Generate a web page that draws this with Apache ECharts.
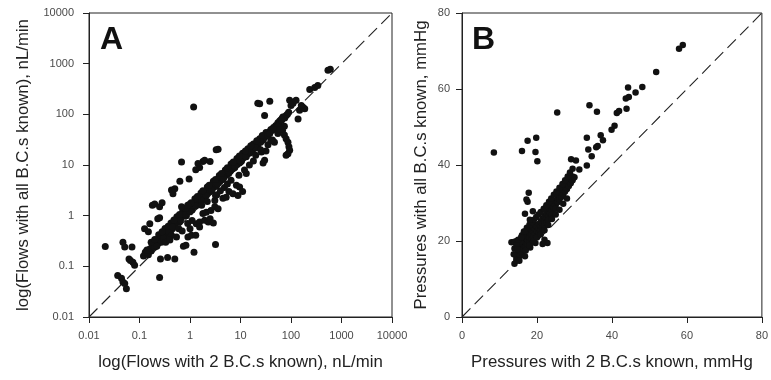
<!DOCTYPE html>
<html><head><meta charset="utf-8">
<script src="https://cdn.jsdelivr.net/npm/echarts/dist/echarts.min.js"></script>
<style>html,body{margin:0;padding:0;background:#fff}#c{width:771px;height:380px}</style>
</head><body><div id="c"></div>
<script>
const flowTicks = ['0.01','0.1','1','10','100','1000','10000'];
const pressureTicks = [0, 20, 40, 60, 80];
const flowDiagonal = [[0.01, 0.01], [10000, 10000]];
const pressureDiagonal = [[0, 0], [80, 80]];

// Panel A: flows (x: 2 B.C.s known, y: all B.C.s known), nL/min
const flowBand = [
[0.12,0.16],[0.13,0.19],[0.15,0.17],[0.16,0.22],[0.17,0.2],[0.18,0.26],[0.19,0.24],[0.2,0.3],[0.21,0.27],[0.22,0.33],
[0.23,0.29],[0.24,0.36],[0.25,0.31],[0.26,0.4],[0.27,0.35],[0.28,0.42],[0.29,0.38],[0.3,0.47],[0.31,0.4],[0.32,0.5],
[0.34,0.45],[0.35,0.55],[0.36,0.48],[0.38,0.58],[0.4,0.52],[0.42,0.62],[0.44,0.6],[0.46,0.7],[0.48,0.64],[0.5,0.78],
[0.52,0.7],[0.55,0.85],[0.58,0.8],[0.6,0.92],[0.63,0.86],[0.66,1.0],[0.7,0.95],[0.73,1.1],[0.76,1.05],[0.8,1.2],
[0.84,1.15],[0.88,1.3],[0.92,1.25],[0.96,1.4],[1.0,1.35],[1.05,1.5],[1.1,1.45],[1.15,1.65],[1.2,1.6],[1.25,1.8],
[1.3,1.7],[1.35,1.95],[1.4,1.85],[1.5,2.1],[1.55,2.0],[1.6,2.3],[1.7,2.2],[1.75,2.5],[1.8,2.4],[1.9,2.7],
[2.0,2.6],[2.1,2.9],[2.2,2.8],[2.3,3.2],[2.4,3.0],[2.5,3.5],[2.6,3.3],[2.8,3.8],[2.9,3.6],[3.0,4.1],
[3.2,4.0],[3.4,4.6],[3.5,4.4],[3.7,5.0],[3.9,4.8],[4.0,5.5],[4.2,5.2],[4.5,6.0],[4.7,5.8],[5.0,6.6],
[5.2,6.3],[5.5,7.2],[5.8,7.0],[6.0,8.0],[6.3,7.6],[6.6,8.6],[7.0,8.4],[7.4,9.5],[7.8,9.2],[8.2,10.5],
[8.6,10.2],[9.0,11.5],[9.5,11],[10,12.5],[10.5,12],[11,13.8],[12,14.5],[12.5,15.8],[13,15.5],[14,17.5],
[15,17],[16,19.5],[17,20],[18,22],[19,21.5],[20,24],[22,26],[24,29],[26,30],[28,34],
[30,35],[32,40],[35,42],[38,46],[40,50],[45,55],[50,60],[55,68],[60,75],[65,80],[70,88],[75,85],
[0.14,0.21],[0.2,0.24],[0.27,0.3],[0.33,0.42],[0.45,0.55],[0.62,0.75],[0.85,1.0],[1.1,1.3],[1.45,1.75],[1.9,2.3],
[2.5,3.0],[3.3,3.9],[4.4,5.2],[5.8,6.8],[7.6,8.8],[10,11.5],[13,14.5],[17,19],[22,24],[28,31],
[0.17,0.3],[0.24,0.42],[0.32,0.56],[0.42,0.72],[0.55,0.95],[0.72,1.25],[0.95,1.65],[1.25,2.15],[1.65,2.8],[2.2,3.7],
[2.9,4.8],[3.8,6.2],[5.0,8.0],[6.5,10.5],[8.5,13.5],[11,17],[14,21],[18,26],[24,33],[32,44],
[0.22,0.25],[0.3,0.36],[0.38,0.48],[0.5,0.62],[0.65,0.82],[0.8,1.05],[1.0,1.2],[1.3,1.55],[1.7,2.0],[2.1,2.5],
[2.7,3.2],[3.5,4.2],[4.6,5.5],[6,7.2],[7.8,9.5],[10,12],[12.5,15],[16,18],[20,22],[25,28],
[0.2,0.34],[0.28,0.48],[0.37,0.62],[0.48,0.82],[0.62,1.05],[0.82,1.4],[1.05,1.8],[1.4,2.4],[1.8,3.1],[2.4,4.0],
[3.2,5.2],[4.2,6.8],[5.5,8.8],[7.2,11.5],[9.5,15],[12.5,19],[16,24],[21,30],[27,38],
[35,38],[42,48],[50,55],[58,62],[80,95],[85,100],[90,110],[55,58],[45,50],[38,42]
];
const flowScatter = [
[0.021,0.245],[0.047,0.30],[0.051,0.24],[0.071,0.24],[0.066,0.13],[0.074,0.12],[0.08,0.105],[0.062,0.14],
[0.037,0.066],[0.044,0.058],[0.047,0.049],[0.055,0.036],[0.051,0.046],
[0.25,0.06],[0.26,0.14],[0.36,0.15],[0.5,0.14],[1.2,0.19],[3.2,0.27],[0.74,0.25],[0.83,0.26],
[0.126,0.55],[0.16,0.69],[0.15,0.48],[0.23,0.87],[0.25,0.91],
[0.18,1.6],[0.2,1.7],[0.25,1.5],[0.28,1.8],
[0.43,3.2],[0.46,2.7],[0.5,3.4],[0.63,4.8],[0.68,1.5],[0.68,11.5],[0.96,5.3],
[1.3,8.1],[1.55,8.9],[1.8,11.7],[1.95,12.4],[1.44,10.7],[2.5,11.7],[3.3,20],[3.6,20.4],
[1.18,140],
[0.43,0.41],[0.54,0.38],[0.91,0.38],[1.07,0.41],[1.3,0.41],
[1.33,0.69],[1.55,0.75],[1.55,0.6],[1.95,0.81],[2.3,0.75],[2.5,0.87],[2.9,0.72],
[1.8,1.1],[2.1,1.17],[2.6,1.26],[3.1,1.5],[3.6,1.37],
[3.1,2.0],[3.2,2.5],[4.5,2.2],[5.2,2.3],
[5.9,3.0],[7.1,2.7],[8.3,4.0],[9.6,3.7],[11,3.0],[8.9,2.5],
[13,6.8],[9.3,6.3],[20,15.5],[26,18],[30,12.4],[28,11],[32,19],[43,31],[47,28],
[68,48],[74,39],[80,33],[87,28],[91,23],[94,19.5],[87,16.6],[80,15.5],
[138,81],[148,120],[173,138],[187,129],[160,150],
[94,190],[100,150],[110,166],[126,190],[69,89],[66,81],
[22,166],[24,162],[38,182],[30,95],
[235,310],[295,340],[340,370],[540,740],[600,780],[65,76],[74,58],
[0.33,0.3],[0.4,0.33],[0.6,0.55],[0.7,0.5],[0.45,0.6],[0.9,0.7],[1.1,0.8],[0.9,1.6],[1.0,0.55],[1.7,1.6],
[2.2,1.9],[3.4,2.6],[4.0,3.1],[4.8,3.6],[5.5,4.2],[6.5,5.0],[12,8],[15,10],[18,12],[25,20],[35,25],[40,30],[55,42],[60,50]
];

// Panel B: pressures (x: 2 B.C.s known, y: all B.C.s known), mmHg
const pressureBand = [
[14,14],[14.5,14.8],[14.5,15.5],[15,15.5],[15,16.5],[15,17.2],[15.5,16.2],[15.5,17.5],[15.5,18.5],
[16,17],[16,18.2],[16,19.4],[16,20.5],[16.5,17.8],[16.5,19],[16.5,20.1],[16.5,21.2],
[17,18.5],[17,19.6],[17,20.8],[17,22],[17.5,19.2],[17.5,20.3],[17.5,21.5],[17.5,22.7],
[18,19.8],[18,21],[18,22.2],[18,23.3],[18.5,20.5],[18.5,21.7],[18.5,22.9],
[19,21.2],[19,22.4],[19,23.6],[19,19.8],[19.5,21.9],[19.5,23.1],[19.5,24.2],
[20,22.5],[20,23.8],[20,21.2],[20.5,23.2],[20.5,24.5],[20.5,22],[21,23.9],[21,25.2],[21,22.8],
[21.5,24.6],[21.5,25.9],[21.5,23.4],[22,25.3],[22,26.5],[22,24.1],[22.5,26],[22.5,27.2],[22.5,24.8],
[23,26.7],[23,27.8],[23,25.5],[23.5,27.4],[23.5,28.5],[24,28.1],[24,29.2],[24,27],[24.5,28.8],[24.5,29.9],
[25,29.5],[25,30.6],[25,28.5],[25.5,30.2],[25.5,31.3],[26,30.9],[26,32],[26.5,31.6],[26.5,32.7],
[27,32.3],[27,33.4],[27.5,33],[27.5,34.1],[28,33.7],[28,34.8],[28.5,34.5],[28.5,35.6],
[29,35.2],[29,36.3],[29.5,36],[29.5,37],[30,36.8],
[13.2,19.7],[14.6,20.0],[14,19.8],[15.2,19.5],[22,20.3],[22.8,19.5],[21.5,19.2],[16.8,16],[18.2,18.3],[19.6,19.5],
[15.5,19.8],[16,21.5],[16.8,22.5],[17.3,23.5],[18,24.3],[18.6,25],[19.2,25.6],[19.8,26.3],[20.4,27],[21,27.6],
[21.8,28.5],[22.5,29.4],[23.2,30.3],[23.8,31.2],[24.5,32.2],[25.2,33],[26,34],[26.8,35],[27.5,36],[28.2,37],[28.8,38],
[17,17.5],[18,18.8],[19,20],[20,21],[21,21.8],[22,22.8],[23,24.2],[24,25.8],[25,27],[26,28.2],[27,29.8],[28,31.2],
[14,18],[14.5,19],[15,20.3],[15.8,21],[16.5,22.5],[13.8,16.5],[14.8,17.8],[15.3,14.8]
];
const pressureScatter = [
[8.5,43.3],[16.0,43.7],[17.5,46.4],[19.8,47.2],[19.6,43.4],[20.1,41.0],[25.4,53.8],
[34.0,55.7],[36.0,54.0],[33.3,47.2],[33.7,44.1],[34.6,42.3],[35.8,44.7],[36.2,45.0],
[37.0,47.8],[37.6,46.5],[39.9,49.3],[40.7,50.3],[41.3,53.7],[41.9,54.2],[43.9,54.8],
[43.7,57.5],[44.5,57.9],[44.3,60.4],[46.3,59.1],[48.1,60.5],[51.8,64.5],[57.9,70.6],[58.9,71.6],
[29.1,41.5],[30.4,41.2],[29.5,39.0],[31.3,38.8],[33.3,39.9],
[17.8,32.7],[17.2,30.9],[17.5,30.3],[16.8,27.2],[18.9,27.8],[18.1,25.6]
];

const FONT = "'Liberation Sans', Arial, sans-serif";
const chart = echarts.init(document.getElementById('c'), null, {renderer: 'canvas'});

function axisCommon() {
  return {
    axisLine: {show: true, onZero: false, lineStyle: {color: '#222', width: 1}},
    axisTick: {show: true, inside: false, length: 6, lineStyle: {color: '#222', width: 1}},
    splitLine: {show: false},
    nameLocation: 'middle',
    nameTextStyle: {fontSize: 16.8, color: '#222', fontFamily: FONT}
  };
}
const flowLabel = v => flowTicks[Math.round(Math.log10(v)) + 2];
const labelStyle = {color: '#4a4a4a', fontSize: 11, fontFamily: FONT, showMinLabel: true, showMaxLabel: true};

const option = {
  animation: false,
  backgroundColor: '#fff',
  grid: [
    {left: 89, top: 13, width: 303, height: 304, show: true, borderColor: '#222', borderWidth: 1, backgroundColor: 'transparent'},
    {left: 462, top: 13, width: 302, height: 304, show: true, borderColor: '#222', borderWidth: 1, backgroundColor: 'transparent'}
  ],
  xAxis: [
    Object.assign(axisCommon(), {gridIndex: 0, type: 'log', logBase: 10, min: 0.01, max: 10000,
      name: 'log(Flows with 2 B.C.s known), nL/min', nameGap: 37,
      axisLabel: Object.assign({margin: 13, formatter: flowLabel}, labelStyle)}),
    Object.assign(axisCommon(), {gridIndex: 1, type: 'value', min: pressureTicks[0], max: pressureTicks[pressureTicks.length - 1], interval: 20,
      name: 'Pressures with 2 B.C.s known, mmHg', nameGap: 37,
      axisLabel: Object.assign({margin: 13}, labelStyle)})
  ],
  yAxis: [
    Object.assign(axisCommon(), {gridIndex: 0, type: 'log', logBase: 10, min: 0.01, max: 10000,
      name: 'log(Flows with all B.C.s known), nL/min', nameGap: 57,
      axisLabel: Object.assign({margin: 15, formatter: flowLabel}, labelStyle)}),
    Object.assign(axisCommon(), {gridIndex: 1, type: 'value', min: pressureTicks[0], max: pressureTicks[pressureTicks.length - 1], interval: 20,
      name: 'Pressures with all B.C.s known, mmHg', nameGap: 32,
      axisLabel: Object.assign({margin: 12}, labelStyle)})
  ],
  graphic: [
    {type: 'text', left: 100, top: 24, style: {text: 'A', font: "bold 32px 'Liberation Sans', Arial, sans-serif", fill: '#111'}},
    {type: 'text', left: 472, top: 24, style: {text: 'B', font: "bold 32px 'Liberation Sans', Arial, sans-serif", fill: '#111'}}
  ],
  series: [
    {type: 'line', xAxisIndex: 0, yAxisIndex: 0, data: flowDiagonal, showSymbol: false, silent: true, z: 1,
      lineStyle: {color: '#222', width: 1.1, type: [12, 6]}},
    {type: 'line', xAxisIndex: 1, yAxisIndex: 1, data: pressureDiagonal, showSymbol: false, silent: true, z: 1,
      lineStyle: {color: '#222', width: 1.1, type: [12, 6]}},
    {type: 'scatter', xAxisIndex: 0, yAxisIndex: 0, data: flowBand.concat(flowScatter), symbolSize: 7, silent: true, z: 2,
      itemStyle: {color: '#111', opacity: 1}},
    {type: 'scatter', xAxisIndex: 1, yAxisIndex: 1, data: pressureBand.concat(pressureScatter), symbolSize: 6.5, silent: true, z: 2,
      itemStyle: {color: '#111', opacity: 1}}
  ]
};
chart.setOption(option);
</script>
</body></html>
